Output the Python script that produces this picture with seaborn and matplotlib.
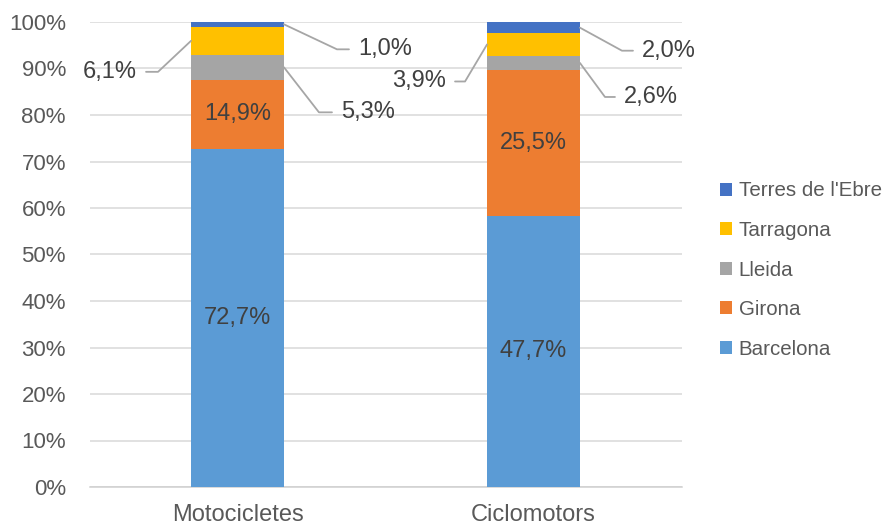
import matplotlib

matplotlib.use("Agg")

import matplotlib.pyplot as plt
from matplotlib.lines import Line2D
from matplotlib.patches import Patch
import pandas as pd
import seaborn as sns


categories = ["Motocicletes", "Ciclomotors"]
regions = ["Barcelona", "Girona", "Lleida", "Tarragona", "Terres de l'Ebre"]
barcelona = [72.7, 47.7]
girona = [14.9, 25.5]
lleida = [5.3, 2.6]
tarragona = [6.1, 3.9]
terres = [1.0, 2.0]

COLORS = {
    "Barcelona": "#5B9BD5",
    "Girona": "#ED7D31",
    "Lleida": "#A5A5A5",
    "Tarragona": "#FFC000",
    "Terres de l'Ebre": "#4472C4",
}
TEXT = "#404040"
AXIS_TEXT = "#595959"
BAR_WIDTH = 0.314

# labels placed outside the bar with a leader line:
# (category, region, side, dx px, dy px down, stub px)
OUTSIDE = [
    ("Motocicletes", "Tarragona", -1, 33, 31, 12),
    ("Motocicletes", "Terres de l'Ebre", 1, 53, 25, 12),
    ("Motocicletes", "Lleida", 1, 35, 45, 13),
    ("Ciclomotors", "Tarragona", -1, 22, 37, 10),
    ("Ciclomotors", "Terres de l'Ebre", 1, 42, 23, 11),
    ("Ciclomotors", "Lleida", 1, 25, 34, 10),
]


def pct(value: float) -> str:
    return f"{value:.1f}".replace(".", ",") + "%"


raw = pd.DataFrame(
    {
        "Barcelona": barcelona,
        "Girona": girona,
        "Lleida": lleida,
        "Tarragona": tarragona,
        "Terres de l'Ebre": terres,
    },
    index=categories,
)
share = raw.div(raw.sum(axis=1), axis=0) * 100
top = share.cumsum(axis=1)
bottom = top - share

sns.set_theme(style="white")
plt.rcParams["font.family"] = ["Liberation Sans", "DejaVu Sans"]

fig = plt.figure(figsize=(8.88, 5.26), dpi=100)
ax = fig.add_axes([89.5 / 888, 1 - 487 / 526, 592 / 888, 465 / 526])

# stacked bars: draw cumulative heights from the top segment down
for region in reversed(regions):
    sns.barplot(
        x=categories,
        y=top[region].to_numpy(),
        color=COLORS[region],
        width=BAR_WIDTH,
        saturation=1,
        linewidth=0,
        ax=ax,
        zorder=3,
    )

ax.set_xlim(-0.5, 1.5)
ax.set_ylim(0, 100)
ax.set_yticks(range(0, 101, 10))
ax.set_yticklabels([f"{t}%" for t in range(0, 101, 10)])
ax.set_xlabel("")
ax.set_ylabel("")
ax.set_axisbelow(True)
ax.yaxis.grid(True, color="#D9D9D9", linewidth=1.1)
ax.xaxis.grid(False)
for side in ["left", "top", "right"]:
    ax.spines[side].set_visible(False)
ax.spines["bottom"].set_color("#D0D0D0")
ax.spines["bottom"].set_linewidth(1.1)
ax.tick_params(axis="y", length=0, pad=17, labelsize=16, labelcolor=AXIS_TEXT)
ax.tick_params(axis="x", length=0, pad=12, labelsize=17, labelcolor=AXIS_TEXT)

# inside labels
for i, cat in enumerate(categories):
    for region in ["Barcelona", "Girona"]:
        mid = (bottom.loc[cat, region] + top.loc[cat, region]) / 2
        ax.text(i, mid, pct(raw.loc[cat, region]), ha="center", va="center",
                fontsize=17, color=TEXT, zorder=4)

# outside labels with leader lines
to_axes = ax.transAxes.inverted()
for cat, region, side, dx, dy, stub in OUTSIDE:
    i = categories.index(cat)
    x_edge = i + side * BAR_WIDTH / 2
    mid = (bottom.loc[cat, region] + top.loc[cat, region]) / 2
    ax0, ay0 = ax.transData.transform((x_edge, mid))
    cx, cy = ax0 + side * dx, ay0 - dy
    ex, ey = cx + side * stub, cy
    pts = to_axes.transform([(ax0, ay0), (cx, cy), (ex, ey)])
    ax.add_line(Line2D(pts[:, 0], pts[:, 1], transform=ax.transAxes,
                       color="#A6A6A6", linewidth=1.3, clip_on=False, zorder=4))
    tx, ty = to_axes.transform((ex + side * 9, ey))
    ax.text(tx, ty, pct(raw.loc[cat, region]), transform=ax.transAxes,
            ha="left" if side > 0 else "right", va="center",
            fontsize=17, color=TEXT, clip_on=False)

handles = [Patch(facecolor=COLORS[r], edgecolor="none", label=r) for r in reversed(regions)]
fig.legend(
    handles=handles,
    loc="center left",
    bbox_to_anchor=(720 / 888, 1 - 270 / 526),
    frameon=False,
    fontsize=14.8,
    handlelength=0.6,
    handleheight=0.6,
    handletextpad=0.3,
    labelspacing=1.0,
    borderpad=0,
    borderaxespad=0,
    labelcolor=AXIS_TEXT,
)

fig.savefig("out.png", dpi=100, facecolor="white")
